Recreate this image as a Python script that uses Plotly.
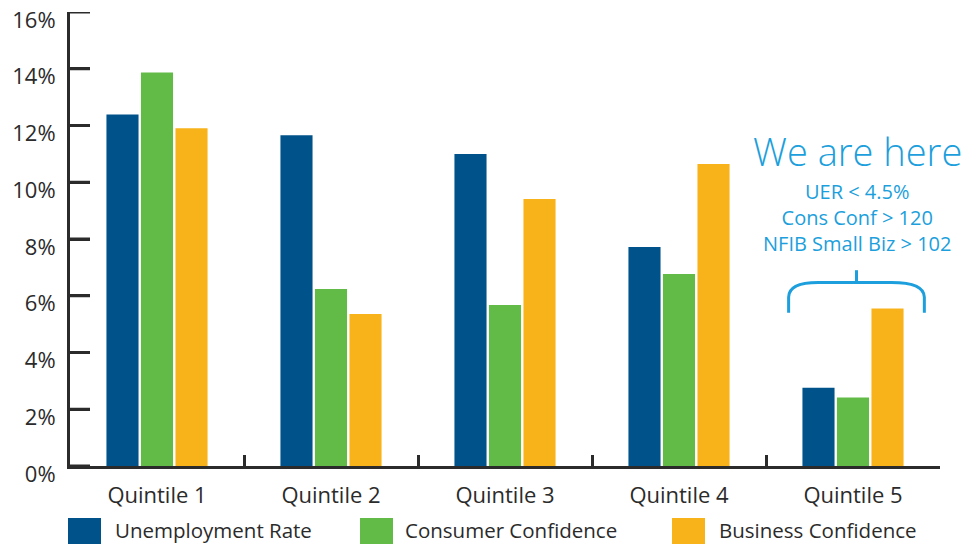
import plotly.graph_objects as go

categories = ["Quintile 1", "Quintile 2", "Quintile 3", "Quintile 4", "Quintile 5"]
series_names = ["Unemployment Rate", "Consumer Confidence", "Business Confidence"]
unemployment = [12.39, 11.66, 11.0, 7.72, 2.76]
consumer = [13.87, 6.24, 5.67, 6.77, 2.41]
business = [11.90, 5.36, 9.41, 10.64, 5.55]
colors = ["#00538A", "#62BB46", "#F9B31A"]
y_ticks = [0, 2, 4, 6, 8, 10, 12, 14, 16]
y_ticktext = [f"{v}%" for v in y_ticks]
note_title = "We are here"
note_lines = ["UER < 4.5%", "Cons Conf > 120", "NFIB Small Biz > 102"]

FONT = "Open Sans"
TEXT = "#2b2b2b"
ACCENT = "#1C9FDC"

fig = go.Figure()
for name, vals, col in zip(series_names, [unemployment, consumer, business], colors):
    fig.add_trace(go.Bar(x=categories, y=vals, name=name, marker_color=col,
                         marker_line_width=0, showlegend=False))

fig.update_layout(
    width=969, height=544,
    margin=dict(l=70, r=29, t=12, b=78),
    paper_bgcolor="white", plot_bgcolor="white",
    barmode="group", bargap=0.405, bargroupgap=0.07,
    font=dict(family=FONT, color=TEXT, size=20),
)
fig.update_xaxes(
    range=[-0.5, 4.5], automargin=False,
    showline=True, linecolor=TEXT, linewidth=3,
    ticks="inside", ticklen=11, tickwidth=3, tickcolor=TEXT,
    tickson="boundaries", showgrid=False,
    tickfont=dict(size=22, color=TEXT), ticklabelstandoff=8,
)
fig.update_yaxes(
    range=[0, 16], automargin=False, tickmode="array", tickvals=y_ticks, ticktext=y_ticktext,
    showline=True, linecolor=TEXT, linewidth=3,
    ticks="inside", ticklen=20, tickwidth=3, tickcolor=TEXT,
    showgrid=False, zeroline=False,
    tickfont=dict(size=22, color=TEXT),
    ticklabelshift=8, ticklabelstandoff=7, ticklabeloverflow="allow",
)

# y tick marks (inside, drawn explicitly as well)
for v in y_ticks:
    fig.add_shape(type="line", xref="paper", yref="y", x0=0, x1=20 / 870.0, y0=v, y1=v,
                  line=dict(color=TEXT, width=3), layer="above")

# "We are here" annotation
fig.add_annotation(x=4, y=11.1, xref="x", yref="y", text=note_title, showarrow=False,
                   xshift=4, font=dict(size=38, color=ACCENT, family=FONT, weight=300))
fig.add_annotation(x=4, y=8.75, xref="x", yref="y", text="<br>".join(note_lines),
                   showarrow=False, xshift=4, align="center",
                   font=dict(size=20, color=ACCENT, family=FONT))

# bracket
fig.add_shape(type="path", xref="x", yref="y",
              path="M 3.63,5.4 L 3.63,5.95 Q 3.63,6.47 3.8,6.47 L 4.22,6.47 Q 4.41,6.47 4.41,5.95 L 4.41,5.4",
              line=dict(color=ACCENT, width=3))
fig.add_shape(type="line", xref="x", yref="y", x0=4.02, x1=4.02, y0=6.47, y1=6.9,
              line=dict(color=ACCENT, width=3))

# custom legend
def px_x(p):
    return (p - 70) / 870.0

def px_y(p):
    return (466 - p) / 454.0

legend_pos = [(68, 113), (360, 403), (672, 717)]
for name, col, (sx, tx) in zip(series_names, colors, legend_pos):
    fig.add_shape(type="rect", xref="paper", yref="paper",
                  x0=px_x(sx), x1=px_x(sx + 33), y0=px_y(544), y1=px_y(518),
                  fillcolor=col, line_width=0)
    fig.add_annotation(x=px_x(tx), y=px_y(530), xref="paper", yref="paper", text=name,
                       showarrow=False, xanchor="left", yanchor="middle",
                       font=dict(size=20.5, color=TEXT, family=FONT))

fig.write_html("out.html")
